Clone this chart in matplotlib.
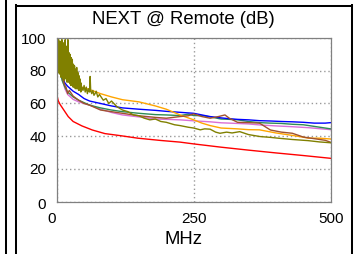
import matplotlib
matplotlib.use("Agg")
import matplotlib.pyplot as plt
from matplotlib.lines import Line2D
import matplotlib.transforms as mtransforms

plt.rcParams['font.family'] = ['Liberation Sans', 'DejaVu Sans']

# ---------------- data ----------------
title = "NEXT @ Remote (dB)"
xlabel = "MHz"
yticks = [0, 20, 40, 60, 80, 100]
xticks = [0, 250, 500]

limit_f = [0.5, 1, 3, 6, 9, 14, 18, 21, 30, 46, 65, 88, 115, 148, 190, 225,
           250, 300, 350, 400, 450, 500]
limit_v = [65.5, 64, 61.5, 59.5, 58, 55.5, 53.5, 52, 49, 46.3, 43.8, 41.6, 40.4,
           38.8, 37.4, 36.4, 35.3, 33.3, 31.5, 29.8, 28.2, 26.5]

f_blue = [1, 3, 6, 10, 15, 20, 30, 40, 50, 60, 80, 100, 120, 150, 180, 200, 225,
          250, 265, 280, 300, 315, 330, 350, 370, 390, 410, 430, 450, 470, 490, 500]
v_blue = [99, 90, 82, 76, 72.5, 70.5, 67.5, 65.5, 63, 61.5, 60, 58.5, 57.3, 56.5,
          55.8, 55.2, 54.6, 54, 53, 52, 51.2, 50.7, 50.3, 50, 49.5, 49.3, 49, 48.8,
          48.5, 48, 48, 48.3]

f_green = [1, 3, 6, 10, 15, 20, 30, 40, 50, 60, 80, 100, 120, 150, 180, 200, 225,
           240, 250, 265, 280, 300, 315, 330, 350, 370, 390, 410, 430, 450, 470, 490, 500]
v_green = [98, 88, 80, 74, 70, 67, 64, 62, 60.5, 59, 57.3, 56, 55, 54, 53.2, 53,
           52.6, 53.5, 52.6, 52.6, 51.8, 50.5, 50.3, 50, 49, 48.3, 48, 47.8, 47.3,
           47, 46, 45, 44.5]

f_brown = [1, 3, 6, 10, 15, 17, 20, 23, 30, 40, 50, 60, 80, 100, 120, 150, 180, 200,
           225, 240, 250, 265, 280, 295, 307, 315, 330, 350, 370, 390, 410, 430, 450,
           470, 490, 500]
v_brown = [100, 93, 82, 76, 71, 70, 66, 68, 64.5, 62, 60, 59, 56, 55, 54, 52.5,
           51.5, 51, 52, 52.5, 53.6, 52, 51, 52, 53, 51, 48.5, 48.3, 48, 43.8, 42.5,
           41.8, 39.5, 38.5, 37.5, 36.3]

f_pink = [1, 3, 6, 10, 15, 20, 30, 40, 50, 60, 80, 100, 120, 150, 180, 200, 225,
          250, 280, 300, 330, 350, 370, 400, 430, 460, 500]
v_pink = [97, 86, 79, 75, 69, 65.5, 62.5, 61, 60, 59, 56.5, 54.5, 53, 51.8, 50.5,
          50.3, 50, 49.4, 48.8, 48.2, 47.8, 47.5, 46.9, 46.3, 45.8, 45.2, 44]

f_orange = [1, 3, 6, 10, 15, 20, 30, 40, 50, 60, 80, 100, 120, 150, 180, 200, 225,
            250, 265, 280, 300, 330, 350, 370, 400, 430, 460, 480, 500]
v_orange = [100, 95, 88, 82, 78, 75, 72, 70.5, 69.5, 68.5, 66, 64, 62.3, 61, 58.5,
            56.5, 53, 50, 48, 46.5, 45, 44.5, 44, 43.9, 42, 40.5, 38.8, 38.8, 38.3]

f_olive = [0.5, 1, 1.5, 2, 2.5, 3, 3.5, 4, 4.5, 5,
           5.5, 6, 6.5, 7, 7.5, 8, 8.5, 9, 9.5, 10,
           10.5, 11, 11.5, 12, 12.5, 13, 13.5, 14, 14.5, 15,
           15.5, 16, 16.5, 17, 17.5, 18, 18.5, 19, 19.5, 20,
           20.5, 21, 21.5, 22, 22.5, 23, 23.5, 24, 24.5, 25,
           25.5, 26, 26.5, 27, 27.5, 28, 28.5, 29, 29.5, 30,
           30.5, 31, 31.5, 32, 32.5, 33, 33.5, 34, 34.5, 35,
           35.5, 36, 36.5, 37, 37.5, 38, 38.5, 39, 39.5, 40,
           40.5, 41, 41.5, 42, 42.5, 43, 43.5, 44, 44.5, 45,
           46, 48, 50, 52, 54, 56, 58, 60, 61, 62, 64, 66, 68, 70, 72, 75, 78,
           80, 85, 90, 95, 100, 110, 120, 130, 140, 150, 160, 170, 180, 190, 200,
           215, 225, 240, 250, 262, 270, 280, 290, 298, 310, 320, 334, 350, 371,
           390, 404, 430, 459, 480, 500]
v_olive = [96, 82, 100, 86, 97, 79, 99, 88, 95, 78,
           93, 81, 98, 84, 90, 76, 96, 83, 99, 77,
           89, 75, 94, 80, 97, 79, 88, 74, 92, 78,
           99, 81, 90, 75, 95, 79, 87, 73, 93, 77,
           99, 80, 88, 73, 91, 76, 86, 72, 90, 75,
           84, 71, 88, 74, 82, 71, 87, 73, 80, 70,
           84, 72, 79, 70, 83, 71, 78, 69, 81, 71,
           77, 69, 82, 70, 76, 69, 79, 70, 75, 68,
           77, 69, 74, 68, 75, 68, 73, 67, 72, 68,
           70, 68, 71, 67, 70, 66, 69, 67, 76.5, 68, 66, 68, 65, 66, 67.5, 64, 65.5,
           64.5, 62, 63, 60, 61.5, 58, 56, 55, 53, 52.5, 51, 50, 50.5, 49, 48.5,
           47, 46.5, 45.5, 45, 43.9, 44.5, 44.3, 42.5, 41.8, 42.5, 42, 42.8, 41, 39.8,
           39.3, 38.8, 38, 37.3, 36.5, 36]

# ---------------- figure ----------------
W, H = 355, 254
fig = plt.figure(figsize=(W / 100, H / 100), dpi=100)

def px(x, y):
    return x / W, 1 - y / H

ax = fig.add_axes([56.7 / W, 1 - 201.7 / H, (330.7 - 56.7) / W, (201.7 - 38) / H])

ax.plot(f_pink, v_pink, color='#da70d6', lw=1.0)
ax.plot(f_green, v_green, color='#2e8b57', lw=1.0)
ax.plot(f_blue, v_blue, color='#0000ff', lw=1.0)
ax.plot(f_orange, v_orange, color='#ffa500', lw=1.0)
ax.plot(f_brown, v_brown, color='#a0522d', lw=1.0)
ax.plot(f_olive, v_olive, color='#808000', lw=1.0)
ax.plot(limit_f, limit_v, color='#ff0000', lw=1.0)

ax.set_xlim(0, 500)
ax.set_ylim(0, 100)
ax.set_xticks(xticks)
ax.set_yticks(yticks)
ax.set_xticklabels([str(t) for t in xticks])
ax.set_yticklabels([str(t) for t in yticks])
ax.tick_params(length=0, labelsize=11, pad=7.5, colors='black')
for s in ax.spines.values():
    s.set_color('#808080')
    s.set_linewidth(0.9)
ax.grid(True, linestyle=(0, (1, 2)), color='#999999', linewidth=1.0)
ax.set_axisbelow(True)

# nudge the x "0" label to the left and y "0" label down
labs = ax.get_xticklabels()
labs[0].set_transform(labs[0].get_transform() +
                      mtransforms.ScaledTranslation(-5 / 100, 0, fig.dpi_scale_trans))
ylabs = ax.get_yticklabels()
ylabs[0].set_transform(ylabs[0].get_transform() +
                       mtransforms.ScaledTranslation(0, -2 / 100, fig.dpi_scale_trans))

fig.text(*px(183, 20), title, ha='center', va='center', fontsize=13.3)
fig.text(*px(183, 240), xlabel, ha='center', va='center', fontsize=13.3)

# panel frame lines
lw = 1.45
fig.add_artist(Line2D([px(6, 0)[0]] * 2, [0, 1], color='black', lw=lw))
fig.add_artist(Line2D([px(16, 0)[0]] * 2, [0, px(0, 5)[1]], color='black', lw=lw))
fig.add_artist(Line2D([px(351.5, 0)[0]] * 2, [0, px(0, 5)[1]], color='black', lw=lw))
fig.add_artist(Line2D([px(16, 0)[0], px(351.5, 0)[0]], [px(0, 5.7)[1]] * 2,
                      color='black', lw=lw))

fig.savefig('out.png', dpi=100)
